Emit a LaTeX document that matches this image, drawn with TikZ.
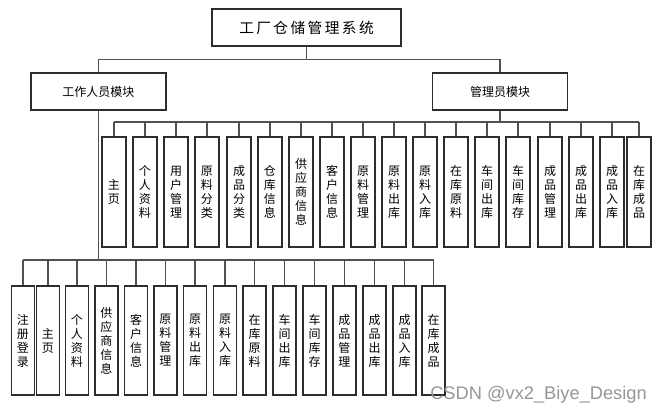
\documentclass[tikz,border=0pt]{standalone}
\usepackage{fontspec}
\usepackage{tikz}
\usetikzlibrary{positioning, calc}
\newfontfamily\cjk{Noto Sans CJK SC}
\newfontfamily\wmfont{Liberation Sans}
\definecolor{boxline}{RGB}{45, 45, 45}
\definecolor{linkgray}{RGB}{80, 80, 80}
\definecolor{markgray}{RGB}{150, 150, 150}

\begin{document}
\begin{tikzpicture}[x=0.75pt, y=-0.75pt,
        modbox/.style={draw=boxline, line width=0.8pt, fill=white, font=\cjk\fontsize{9}{11}\selectfont,
              minimum width=135*0.75pt, minimum height=37*0.75pt, inner sep=0pt},
        upbox/.style={draw=boxline, line width=0.8pt, fill=white, font=\cjk\fontsize{9}{10.5}\selectfont,
              minimum width=24*0.75pt, minimum height=110*0.75pt, text width=12pt, align=center, inner sep=0pt},
        lowbox/.style={upbox, minimum width=23*0.75pt, minimum height=109*0.75pt},
        link/.style={draw=linkgray, line width=0.8pt}]
        \useasboundingbox (0,0) rectangle (662,413);

        % top and modules
        \node[modbox, line width=0.9pt, minimum width=189*0.75pt, font=\cjk\fontsize{11}{13}\selectfont] (sys) at (306.5,27.5)
            {工\,厂\,仓\,储\,管\,理\,系\,统};
        \node[modbox] (worker) at (98.5,91.5) {工作人员模块};
        \node[modbox] (admin) at (500,91.5) {管理员模块};
        \draw[link] (sys.south) -- ++(0,13) -| (worker.north);
        \draw[link] (sys.south) -- ++(0,13) -| (admin.north);

        % admin functions
        \foreach \x/\txt [count=\i] in {114/{主\\页}, 145/{个\\人\\资\\料}, 176/{用\\户\\管\\理}, 207/{原\\料\\分\\类},
                239/{成\\品\\分\\类}, 270/{仓\\库\\信\\息}, 301/{供\\应\\商\\信\\息}, 332/{客\\户\\信\\息},
                363/{原\\料\\管\\理}, 394/{原\\料\\出\\库}, 425/{原\\料\\入\\库}, 456/{在\\库\\原\\料},
                487/{车\\间\\出\\库}, 518/{车\\间\\库\\存}, 550/{成\\品\\管\\理}, 581/{成\\品\\出\\库},
                612/{成\\品\\入\\库}, 639/{在\\库\\成\\品}}
            \node[upbox] (a\i) at (\x,192) {\txt};
        \coordinate (abus) at (500,122);
        \draw[link] (admin.south) -- (abus);
        \draw[link] (a1.north |- abus) -- (a18.north |- abus);
        \foreach \i in {1,...,18}
            \draw[link] (a\i.north |- abus) -- (a\i.north);

        % worker functions
        \foreach \x/\txt [count=\i] in {23/{注\\册\\登\\录}, 48/{主\\页}, 77/{个\\人\\资\\料}, 106.5/{供\\应\\商\\信\\息},
                136/{客\\户\\信\\息}, 165.5/{原\\料\\管\\理}, 195/{原\\料\\出\\库}, 225/{原\\料\\入\\库},
                254.5/{在\\库\\原\\料}, 284.5/{车\\间\\出\\库}, 314.5/{车\\间\\库\\存}, 344.5/{成\\品\\管\\理},
                374.5/{成\\品\\出\\库}, 404.5/{成\\品\\入\\库}, 433.5/{在\\库\\成\\品}}
            \node[lowbox] (w\i) at (\x,340.5) {\txt};
        \coordinate (wbus) at (98.5,260);
        \draw[link] (worker.south) -- (wbus);
        \draw[link] (w1.north |- wbus) -- (w15.north |- wbus);
        \foreach \i in {1,...,15}
            \draw[link] (w\i.north |- wbus) -- (w\i.north);

        \node[anchor=base west, inner sep=0pt, text=markgray, font=\wmfont\fontsize{13.7}{15}\selectfont] (mark) at (430,400)
            {CSDN @vx2\_Biye\_Design};
    \end{tikzpicture}
\end{document}
